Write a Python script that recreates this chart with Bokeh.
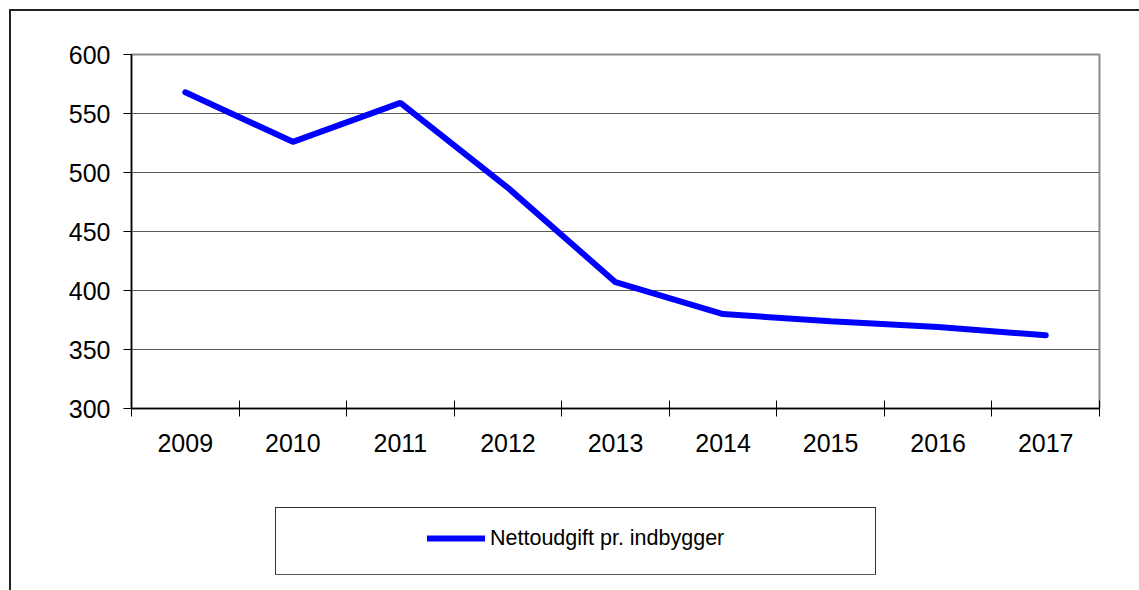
from bokeh.plotting import figure
from bokeh.layouts import column
from bokeh.models import (Range1d, FixedTicker, Legend, LegendItem,
                          NumeralTickFormatter, ColumnDataSource)
from bokeh.embed import file_html
from bokeh.resources import INLINE

# ---- data ----
years = [2009, 2010, 2011, 2012, 2013, 2014, 2015, 2016, 2017]
values = [568, 526, 559, 487, 407, 380, 374, 369, 362]
series_name = "Nettoudgift pr. indbygger"
y_ticks = [300, 350, 400, 450, 500, 550, 600]

FONT = "Liberation Sans"
LINE = dict(line_color="#0000ff", line_width=6, line_cap="round")

# outer chart frame and legend box are page decorations (CSS lines)
deco = [
    "linear-gradient(#222,#222) 9px 9px / 2px 100% no-repeat",     # outer left
    "linear-gradient(#222,#222) 9px 9px / 100% 2px no-repeat",     # outer top
    "linear-gradient(#333,#333) 275px 507px / 601px 1px no-repeat",  # legend top
    "linear-gradient(#555,#555) 275px 574px / 601px 1px no-repeat",  # legend bottom
    "linear-gradient(#333,#333) 275px 507px / 1px 68px no-repeat",   # legend left
    "linear-gradient(#333,#333) 875px 507px / 1px 68px no-repeat",   # legend right
]

src = ColumnDataSource(dict(x=years, y=values))

# ---- main chart ----
p = figure(width=1139, height=465, output_backend="svg", toolbar_location=None,
           x_range=Range1d(years[0] - 0.5, years[-1] + 0.5),
           y_range=Range1d(y_ticks[0], y_ticks[-1]),
           min_border_left=131, min_border_right=40,
           min_border_top=54, min_border_bottom=57)
p.background_fill_color = "white"
p.border_fill_alpha = 0
p.outline_line_color = "#8a8a8a"
p.outline_line_width = 2
p.line("x", "y", source=src, **LINE)

p.yaxis.ticker = FixedTicker(ticks=y_ticks)
p.ygrid.ticker = p.yaxis.ticker
p.yaxis.major_tick_out = 8
p.yaxis.major_tick_in = 0
p.yaxis.minor_tick_line_color = None
p.yaxis.axis_line_color = "black"
p.yaxis.axis_line_width = 1.5
p.yaxis.major_tick_line_color = "black"
p.yaxis.major_label_standoff = 13
p.yaxis.major_label_text_font = FONT
p.yaxis.major_label_text_font_size = "25px"
p.yaxis.major_label_text_color = "black"

p.xaxis.ticker = FixedTicker(ticks=years,
                             minor_ticks=[y - 0.5 for y in years] + [years[-1] + 0.5])
p.xaxis.formatter = NumeralTickFormatter(format="0")
p.xaxis.major_tick_in = 0
p.xaxis.major_tick_out = 0
p.xaxis.major_tick_line_color = None
p.xaxis.minor_tick_in = 8
p.xaxis.minor_tick_out = 8
p.xaxis.minor_tick_line_color = "black"
p.xaxis.axis_line_color = "black"
p.xaxis.axis_line_width = 1.5
p.xaxis.major_label_standoff = 17
p.xaxis.major_label_text_font = FONT
p.xaxis.major_label_text_font_size = "25px"
p.xaxis.major_label_text_color = "black"

p.ygrid.grid_line_color = "#5a5a5a"
p.ygrid.grid_line_width = 1
p.xgrid.visible = False

# ---- legend strip below the chart ----
q = figure(width=1139, height=125, output_backend="svg", toolbar_location=None,
           x_range=Range1d(0, 1), y_range=Range1d(0, 1),
           x_axis_type=None, y_axis_type=None,
           min_border_left=0, min_border_right=0,
           min_border_top=0, min_border_bottom=0)
q.grid.visible = False
q.outline_line_color = None
q.background_fill_alpha = 0
q.border_fill_alpha = 0
key = q.line("x", "y", source=src, **LINE)   # series drawn off-view; used for the key

leg = Legend(items=[LegendItem(label=series_name, renderers=[key])],
             location=(296, 37), padding=0, margin=0, spacing=0,
             glyph_width=58, glyph_height=30, label_height=30,
             label_standoff=5, label_text_font=FONT, label_text_font_size="21.5px",
             label_text_color="black",
             border_line_alpha=0, background_fill_alpha=0)
q.add_layout(leg)

layout = column(p, q, spacing=0,
                styles={"background": ", ".join(deco) + ", white"})

open("out.html", "w").write(file_html(layout, INLINE))
